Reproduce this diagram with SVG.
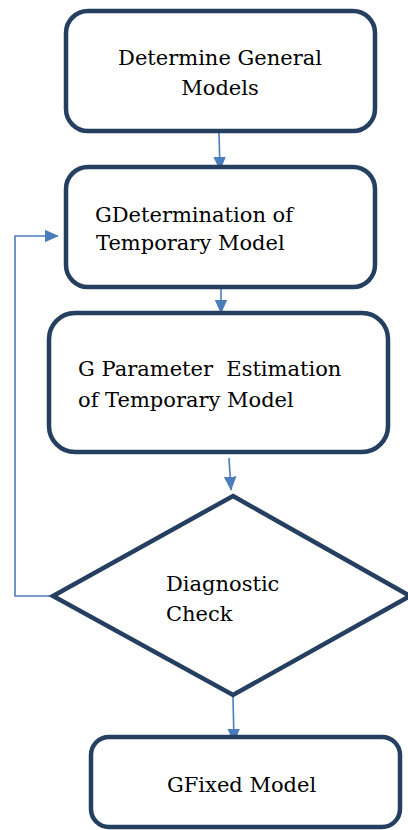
<svg xmlns="http://www.w3.org/2000/svg" width="408" height="830" viewBox="0 0 408 830">
<style>
.n{fill:#fff;stroke:#243f60;stroke-width:4.5}
.c{fill:none;stroke:#4a7ebb;stroke-width:1.6}
.t{font-family:'DejaVu Serif',serif;font-size:21px;fill:#000}
</style>
<defs>
<marker id="ah" viewBox="0 0 10 10" refX="9.5" refY="5" markerWidth="14" markerHeight="14" markerUnits="userSpaceOnUse" orient="auto">
<path d="M0,0.5 L10,5 L0,9.5 z" fill="#4a7ebb"/>
</marker>
</defs>
<g id="connectors">
<line class="c" x1="219" y1="133" x2="220" y2="170" marker-end="url(#ah)"/>
<line class="c" x1="221" y1="289" x2="221" y2="313" marker-end="url(#ah)"/>
<line class="c" x1="229" y1="458" x2="231" y2="490" marker-end="url(#ah)"/>
<line class="c" x1="233" y1="697" x2="234" y2="742" marker-end="url(#ah)"/>
<polyline class="c" points="52,596 15,596 15,236 58,236" marker-end="url(#ah)"/>
</g>
<g id="n1">
<rect class="n" x="66" y="11" width="309" height="120" rx="22"/>
<text class="t" x="220" y="65" text-anchor="middle">Determine General</text>
<text class="t" x="220" y="95" text-anchor="middle">Models</text>
</g>
<g id="n2">
<rect class="n" x="66" y="167" width="309" height="120" rx="22"/>
<text class="t" x="95" y="222">GDetermination of</text>
<text class="t" x="96" y="250">Temporary Model</text>
</g>
<g id="n3">
<rect class="n" x="49" y="313" width="339" height="139" rx="26"/>
<text class="t" x="78" y="376" xml:space="preserve">G Parameter  Estimation</text>
<text class="t" x="78" y="407">of Temporary Model</text>
</g>
<g id="n4">
<polygon class="n" points="233,496 410,596 233,695 53,596"/>
<text class="t" x="166" y="591">Diagnostic</text>
<text class="t" x="166" y="621">Check</text>
</g>
<g id="n5">
<rect class="n" x="91" y="737" width="309" height="90" rx="18"/>
<text class="t" x="167" y="792">GFixed Model</text>
</g>
</svg>
